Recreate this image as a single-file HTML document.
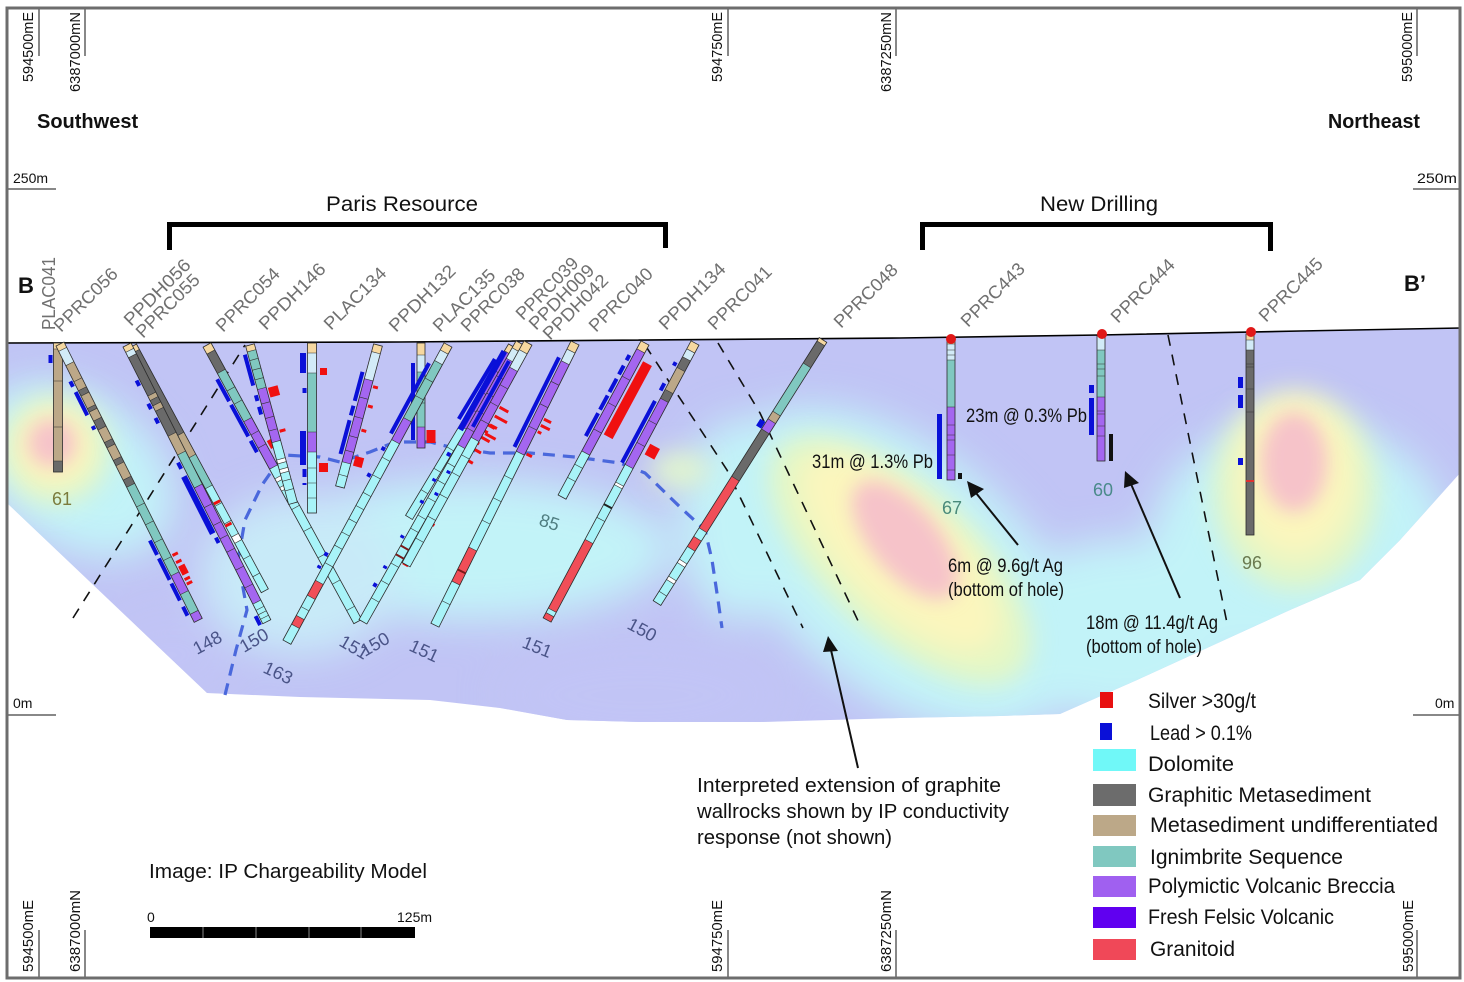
<!DOCTYPE html>
<html><head><meta charset="utf-8"><style>
html,body{margin:0;padding:0;background:#fff;}
svg{display:block;}
text{font-family:"Liberation Sans",Arial,sans-serif;}
.Y{stroke:#f6d8a0}.L{stroke:#d2ebf7}.T{stroke:#bca888}.G{stroke:#6a6a6a}.I{stroke:#80c8c0}.P{stroke:#a466f0}.C{stroke:#a8f3f8}.R{stroke:#f04e58}.W{stroke:#fff}
.k{stroke:#333;stroke-width:.6;fill:none}
.o{fill:none;stroke:#2b2b2b;stroke-width:.8}
.B{stroke:#0a10d8;stroke-width:4;fill:none}
.B6{stroke:#0a10d8;stroke-width:6;fill:none}
.S{stroke:#f01010;stroke-width:3;fill:none}
.Sh{stroke:#f01010;fill:none}
.hl{fill:#707070;font-size:18px}
.dn{fill:#4a5488;font-size:18px}
.lg{fill:#111;font-size:21px}
.an{fill:#111;font-size:19px}
.co{fill:#111;font-size:15px}
</style></head><body>
<svg width="1464" height="982" viewBox="0 0 1464 982" xmlns="http://www.w3.org/2000/svg">
<defs>
<clipPath id="ipc"><polygon points="7,343 400,342 900,338 1100,335 1300,331 1461,328 1461,472 1400,540 1360,580 1290,610 1137,680 1060,714 1000,716 900,718 760,722 640,722 567,720 500,708 430,700 300,697 207,693 7,503"/></clipPath>
<filter id="f1" x="-50%" y="-50%" width="200%" height="200%"><feGaussianBlur stdDeviation="20"/></filter>
<filter id="f2" x="-50%" y="-50%" width="200%" height="200%"><feGaussianBlur stdDeviation="13"/></filter>
<filter id="f3" x="-50%" y="-50%" width="200%" height="200%"><feGaussianBlur stdDeviation="9"/></filter>
</defs>
<rect width="1464" height="982" fill="#fff"/>

<!-- IP model -->
<g clip-path="url(#ipc)">
<rect x="0" y="300" width="1464" height="450" fill="#c1c4f5"/>
<g filter="url(#f1)" fill="#c2f3f8">
<ellipse cx="470" cy="550" rx="200" ry="70"/>
<ellipse cx="300" cy="575" rx="100" ry="80" fill="#c8eaf8"/>
<ellipse cx="740" cy="520" rx="60" ry="100"/>
<ellipse cx="900" cy="570" rx="210" ry="120" transform="rotate(40 900 570)"/>
<ellipse cx="1120" cy="630" rx="120" ry="90"/>
<ellipse cx="1300" cy="545" rx="150" ry="125"/>
<ellipse cx="75" cy="470" rx="110" ry="75" transform="rotate(35 75 470)"/>
<ellipse cx="640" cy="695" rx="140" ry="55" fill="#c1c4f5"/>
<ellipse cx="170" cy="655" rx="60" ry="40" fill="#c1c4f5"/>
</g>
<g filter="url(#f2)">
<circle cx="55" cy="450" r="55" fill="#e2f6c6"/>
<circle cx="54" cy="447" r="40" fill="#fbf6bd"/>
<ellipse cx="900" cy="560" rx="165" ry="75" transform="rotate(43 900 560)" fill="#e4f7c4"/>
<ellipse cx="900" cy="552" rx="130" ry="55" transform="rotate(45 900 552)" fill="#fbf6bd"/>
<ellipse cx="1295" cy="490" rx="82" ry="100" fill="#e2f6c6"/>
<ellipse cx="1295" cy="475" rx="60" ry="82" fill="#fbf6bd"/>
<ellipse cx="680" cy="470" rx="30" ry="18" fill="#e2f6cc"/>
</g>
<g filter="url(#f3)" fill="#f6c3c9">
<circle cx="52" cy="443" r="24"/>
<ellipse cx="905" cy="540" rx="72" ry="34" transform="rotate(50 905 540)"/>
<ellipse cx="1294" cy="462" rx="33" ry="50"/>
</g>
</g>

<!-- ground line -->
<polyline points="7,343 400,342 900,338 1100,335 1300,331 1461,328" fill="none" stroke="#000" stroke-width="1.6"/>

<!-- black dashed interpretations -->
<g fill="none" stroke="#111" stroke-width="1.6" stroke-dasharray="11 9">
<path d="M73 618L245 345"/>
<path d="M645 345L727 470L803 628"/>
<path d="M718 343L760 413L860 625"/>
<path d="M1168 335L1227 623"/>
</g>

<!-- blue dashed IP boundary -->
<polyline points="225,695 236,650 247,610 238,560 245,520 262,485 283,455 320,457 340,462 370,452 395,442 430,442 450,447 490,453 530,453 575,457 620,463 645,473 680,507 705,530 712,560 718,600 722,628" fill="none" stroke="#4a68dc" stroke-width="3.2" stroke-dasharray="12 8"/>

<!-- H1 PLAC041 -->
<g transform="translate(58,343) rotate(90)" stroke-width="9">
<path class="Y" d="M0 0H6"/><path class="T" d="M6 0H118"/><path class="G" d="M118 0H129"/>
<rect class="o" x="0" y="-4.5" width="129" height="9"/>
<path class="k" d="M6 -4.5v9M38 -4.5v9M84 -4.5v9M118 -4.5v9"/>
<path class="B" d="M12 7.5H20"/>
</g>

<!-- H2 PPRC056 -->
<g transform="translate(60,344) rotate(63.43)" stroke-width="9">
<path class="Y" d="M0 0H6"/><path class="L" d="M6 0H22"/><path class="T" d="M22 0H150"/>
<path class="G" d="M50 0H56M70 0H74M84 0H94M108 0H114M128 0H134M150 0H158"/>
<path class="I" d="M158 0H257M278 0H300"/><path class="P" d="M257 0H278M300 0H309"/>
<rect class="o" x="0" y="-4.5" width="309" height="9"/>
<path class="k" d="M6 -4.5v9M22 -4.5v9M40 -4.5v9M50 -4.5v9M56 -4.5v9M70 -4.5v9M74 -4.5v9M84 -4.5v9M94 -4.5v9M108 -4.5v9M114 -4.5v9M128 -4.5v9M134 -4.5v9M150 -4.5v9M158 -4.5v9M180 -4.5v9M200 -4.5v9M220 -4.5v9M240 -4.5v9M257 -4.5v9M278 -4.5v9M300 -4.5v9"/>
<path class="B" d="M38 7.5H44M50 7.5H76M88 7.5H92M216 7.5H232M236 7.5H260M264 7.5H283M290 7.5H300"/>
<path class="S" d="M239.5 -6V-12M247.5 -6V-12M266.5 -6V-12M271.5 -6V-12"/>
<path class="Sh" stroke-width="7" d="M252 -9.5H262"/>
</g>

<!-- H3a PPRC055 -->
<g transform="translate(133,346) rotate(61.7)" stroke-width="8">
<path class="Y" d="M0 0H6"/><path class="G" d="M6 0H100"/><path class="T" d="M100 0H125"/><path class="I" d="M125 0H160"/><path class="C" d="M160 0H278"/><path class="W" d="M215 0H222"/>
<rect class="o" x="0" y="-4" width="278" height="8"/>
<path class="k" d="M6 -4v8M100 -4v8M125 -4v8M160 -4v8M180 -4v8M200 -4v8M215 -4v8M222 -4v8M240 -4v8M260 -4v8"/>
</g>

<!-- H3b PPDH056 -->
<g transform="translate(127,345) rotate(63.2)" stroke-width="9">
<path class="Y" d="M0 0H6"/><path class="L" d="M6 0H12"/><path class="G" d="M12 0H100"/><path class="T" d="M55 0H60M66 0H72M100 0H121"/><path class="I" d="M121 0H158"/><path class="P" d="M158 0H288"/><path class="C" d="M288 0H310"/>
<rect class="o" x="0" y="-4.5" width="310" height="9"/>
<path class="k" d="M6 -4.5v9M12 -4.5v9M55 -4.5v9M60 -4.5v9M66 -4.5v9M72 -4.5v9M100 -4.5v9M121 -4.5v9M158 -4.5v9M180 -4.5v9M200 -4.5v9M215 -4.5v9M230 -4.5v9M250 -4.5v9M270 -4.5v9M288 -4.5v9M295 -4.5v9M300 -4.5v9M305 -4.5v9"/>
<path class="B" d="M36 7.5H42M62 7.5H68M78 7.5H84M128 7.5H135M212 7.5H218M300 7.5H310"/>
<path class="B6" d="M143 8.5H207"/>
<path class="S" d="M181 -6V-13M206 -6V-13"/>
</g>

<!-- H4 PPRC054 -->
<g transform="translate(207,345) rotate(61.4)" stroke-width="9">
<path class="Y" d="M0 0H8"/><path class="G" d="M8 0H30"/><path class="I" d="M30 0H85"/><path class="P" d="M85 0H139"/><path class="C" d="M139 0H315"/><path class="W" d="M150 0H154M160 0H164"/>
<rect class="o" x="0" y="-4.5" width="315" height="9"/>
<path class="k" d="M8 -4.5v9M30 -4.5v9M50 -4.5v9M65 -4.5v9M85 -4.5v9M100 -4.5v9M115 -4.5v9M139 -4.5v9M150 -4.5v9M154 -4.5v9M160 -4.5v9M164 -4.5v9M185 -4.5v9M210 -4.5v9M240 -4.5v9M270 -4.5v9M300 -4.5v9"/>
<path class="B" d="M35 7.5H60M64 7.5H100M105 7.5H118"/>
<path class="Sh" stroke-width="9" d="M113 -11H122"/>
</g>

<!-- H5 PPDH146 -->
<g transform="translate(250,345) rotate(74.8)" stroke-width="9">
<path class="Y" d="M0 0H6"/><path class="I" d="M6 0H45"/><path class="P" d="M45 0H100"/><path class="C" d="M100 0H164"/><path class="W" d="M118 0H122M128 0H132"/>
<rect class="o" x="0" y="-4.5" width="164" height="9"/>
<path class="k" d="M6 -4.5v9M15 -4.5v9M25 -4.5v9M35 -4.5v9M45 -4.5v9M60 -4.5v9M75 -4.5v9M88 -4.5v9M100 -4.5v9M118 -4.5v9M122 -4.5v9M128 -4.5v9M132 -4.5v9M140 -4.5v9M150 -4.5v9"/>
<path class="B" d="M8 7.5H40M50 7.5H56M62 7.5H70"/>
<path class="Sh" stroke-width="10" d="M46 -11H56"/>
<path class="S" d="M91 -6V-12"/>
</g>

<!-- H6 PLAC134 -->
<g transform="translate(312,343) rotate(90)" stroke-width="9">
<path class="Y" d="M0 0H10"/><path class="L" d="M10 0H30"/><path class="I" d="M30 0H89"/><path class="P" d="M89 0H109"/><path class="C" d="M109 0H170"/>
<rect class="o" x="0" y="-4.5" width="170" height="9"/>
<path class="k" d="M10 -4.5v9M30 -4.5v9M89 -4.5v9M109 -4.5v9M125 -4.5v9M140 -4.5v9M155 -4.5v9"/>
<path class="B6" d="M10 9H30M88 9H122"/>
<path class="B" d="M45 7.5H50M126 7.5H134M140 7.5H142"/>
<path class="Sh" stroke-width="7" d="M25 -11.5H32"/>
<path class="Sh" stroke-width="9" d="M120 -11.5H129"/>
</g>

<!-- H7 PPDH132 -->
<g transform="translate(378,345) rotate(105)" stroke-width="9">
<path class="Y" d="M0 0H8"/><path class="L" d="M8 0H36"/><path class="P" d="M36 0H122"/><path class="C" d="M122 0H147"/>
<rect class="o" x="0" y="-4.5" width="147" height="9"/>
<path class="k" d="M8 -4.5v9M36 -4.5v9M55 -4.5v9M75 -4.5v9M95 -4.5v9M110 -4.5v9M122 -4.5v9M135 -4.5v9"/>
<path class="B" d="M30 8H60M65 8H75M80 8H115" stroke-width="5"/>
<path class="S" d="M41.5 -6V-11M61.5 -6V-11M86.5 -6V-11"/>
<path class="Sh" stroke-width="9" d="M113 -11.5H123"/>
</g>

<!-- H8 PLAC135 -->
<g transform="translate(421,343) rotate(90)" stroke-width="8">
<path class="Y" d="M0 0H12"/><path class="L" d="M12 0H29"/><path class="I" d="M29 0H84"/><path class="P" d="M84 0H105"/>
<rect class="o" x="0" y="-4" width="105" height="8"/>
<path class="k" d="M12 -4v8M29 -4v8M45 -4v8M60 -4v8M84 -4v8"/>
<path class="B" d="M20 8H97"/>
<path class="Sh" stroke-width="9" d="M87 -10H100"/>
</g>

<!-- H9 PPRC038 -->
<g transform="translate(448,345) rotate(118.46)" stroke-width="9">
<path class="Y" d="M0 0H8"/><path class="L" d="M8 0H20"/><path class="I" d="M20 0H85"/><path class="P" d="M85 0H110"/><path class="C" d="M110 0H270M287 0H310M320 0H338"/><path class="R" d="M270 0H287M310 0H320"/>
<rect class="o" x="0" y="-4.5" width="338" height="9"/>
<path class="k" d="M8 -4.5v9M20 -4.5v9M40 -4.5v9M60 -4.5v9M85 -4.5v9M110 -4.5v9M130 -4.5v9M150 -4.5v9M170 -4.5v9M185 -4.5v9M200 -4.5v9M215 -4.5v9M230 -4.5v9M250 -4.5v9M270 -4.5v9M287 -4.5v9M300 -4.5v9M310 -4.5v9M320 -4.5v9"/>
<path class="B" d="M25 8H105" stroke-width="5"/>
<path class="B" d="M120 7.5H124M150 7.5H154M240 7.5H244M255 7.5H258"/>
</g>

<!-- H10c -->
<g transform="translate(512,346) rotate(121)" stroke-width="8">
<path class="Y" d="M0 0H8"/><path class="P" d="M8 0H95"/><path class="C" d="M95 0H200"/>
<rect class="o" x="0" y="-4" width="200" height="8"/>
<path class="k" d="M8 -4v8M30 -4v8M55 -4v8M75 -4v8M95 -4v8M120 -4v8M145 -4v8M170 -4v8"/>
<path class="B" d="M20 8H90" stroke-width="5"/>
</g>

<!-- H10a -->
<g transform="translate(520,343) rotate(119.4)" stroke-width="9">
<path class="Y" d="M0 0H8"/><path class="L" d="M8 0H20"/><path class="P" d="M20 0H119"/><path class="C" d="M119 0H320"/>
<rect class="o" x="0" y="-4.5" width="320" height="9"/>
<path class="k" d="M8 -4.5v9M20 -4.5v9M40 -4.5v9M60 -4.5v9M80 -4.5v9M100 -4.5v9M119 -4.5v9M140 -4.5v9M160 -4.5v9M180 -4.5v9M200 -4.5v9M215 -4.5v9M255 -4.5v9M275 -4.5v9M295 -4.5v9"/>
<path d="M235 -4.5v9M245 -4.5v9" stroke="#7a1a1a" stroke-width="2"/>
<path class="B6" d="M15 9.5H105"/>
<path class="B" d="M130 7.5H134M160 7.5H163M185 7.5H188M225 7.5H228M260 7.5H263M280 7.5H284"/>
<path class="S" stroke-width="4" d="M87 -6V-20M94 -6V-16M101 -6V-22M108 -6V-14M115 -6V-20M122 -6V-12M128 -6V-18M136 -6V-10M150 -6V-12M191 -6V-12M201 -6V-15M207 -6V-12M226 -6V-12M234 -6V-14M241 -6V-10M249 -6V-12"/>
</g>

<!-- H10b -->
<g transform="translate(528,343) rotate(118.8)" stroke-width="9">
<path class="Y" d="M0 0H10"/><path class="L" d="M10 0H30"/><path class="P" d="M30 0H110"/><path class="C" d="M110 0H253"/>
<rect class="o" x="0" y="-4.5" width="253" height="9"/>
<path class="k" d="M10 -4.5v9M30 -4.5v9M50 -4.5v9M70 -4.5v9M90 -4.5v9M110 -4.5v9M130 -4.5v9M150 -4.5v9M175 -4.5v9M200 -4.5v9M225 -4.5v9"/>
<path class="B" d="M25 8H100" stroke-width="5"/>
<path class="B" d="M150 7.5H153M175 7.5H178"/>
<path class="S" stroke-width="4" d="M70 -6V-16M80 -6V-20M90 -6V-14M100 -6V-18"/>
</g>

<!-- H11 -->
<g transform="translate(575,343) rotate(116.4)" stroke-width="9">
<path class="Y" d="M0 0H9"/><path class="L" d="M9 0H22"/><path class="P" d="M22 0H123"/><path class="C" d="M123 0H230M268 0H315"/><path class="R" d="M230 0H268"/>
<rect class="o" x="0" y="-4.5" width="315" height="9"/>
<path class="k" d="M9 -4.5v9M22 -4.5v9M45 -4.5v9M70 -4.5v9M95 -4.5v9M123 -4.5v9M150 -4.5v9M175 -4.5v9M200 -4.5v9M230 -4.5v9M268 -4.5v9M290 -4.5v9"/>
<path d="M255 -4.5v9" stroke="#7a1a1a" stroke-width="2"/>
<path class="B" d="M20 8H120" stroke-width="5"/>
<path class="S" stroke-width="4" d="M82 -6V-14M89 -6V-16M96 -6V-10M121 -6V-12"/>
</g>

<!-- H12 PPRC040 -->
<g transform="translate(645,343) rotate(118.3)" stroke-width="9">
<path class="Y" d="M0 0H9"/><path class="P" d="M9 0H125"/><path class="C" d="M125 0H175"/>
<rect class="o" x="0" y="-4.5" width="175" height="9"/>
<path class="k" d="M9 -4.5v9M40 -4.5v9M70 -4.5v9M100 -4.5v9M125 -4.5v9M140 -4.5v9M155 -4.5v9"/>
<path class="B" stroke-width="5" d="M18 8H24M30 8H40M45 8H60M64 8H80M84 8H110"/>
<path class="Sh" stroke-width="10" d="M17 -12H100"/>
</g>

<!-- H13 PPDH134 -->
<g transform="translate(695,343) rotate(118.1)" stroke-width="9">
<path class="Y" d="M0 0H9"/><path class="L" d="M9 0H18"/><path class="G" d="M18 0H30M55 0H65"/><path class="T" d="M30 0H55"/><path class="P" d="M65 0H140"/><path class="C" d="M140 0H225M303 0H308"/><path class="R" d="M225 0H303M308 0H314"/><path class="W" d="M160 0H163"/>
<rect class="o" x="0" y="-4.5" width="314" height="9"/>
<path class="k" d="M9 -4.5v9M18 -4.5v9M30 -4.5v9M55 -4.5v9M65 -4.5v9M90 -4.5v9M115 -4.5v9M140 -4.5v9M160 -4.5v9M163 -4.5v9M200 -4.5v9M225 -4.5v9M303 -4.5v9M308 -4.5v9"/>
<path d="M185 -4.5v9" stroke="#222" stroke-width="2"/>
<path class="B" stroke-width="5" d="M26 8H30M50 8H58M70 8H140"/>
<path class="Sh" stroke-width="11" d="M110 -13.5H122"/>
</g>

<!-- H14 PPRC048 -->
<g transform="translate(823,340) rotate(122.26)" stroke-width="9">
<path class="Y" d="M0 0H4"/><path class="G" d="M4 0H30M108 0H164"/><path class="I" d="M30 0H87"/><path class="T" d="M87 0H96"/><path class="P" d="M96 0H108"/><path class="R" d="M164 0H225M235 0H247"/><path class="C" d="M225 0H235M247 0H311"/><path class="W" d="M262 0H266M282 0H286"/>
<rect class="o" x="0" y="-4.5" width="311" height="9"/>
<path class="k" d="M4 -4.5v9M30 -4.5v9M87 -4.5v9M96 -4.5v9M108 -4.5v9M164 -4.5v9M225 -4.5v9M235 -4.5v9M247 -4.5v9M262 -4.5v9M266 -4.5v9M282 -4.5v9M286 -4.5v9M300 -4.5v9"/>
<path class="B6" d="M100 8H108"/>
</g>

<!-- H15 PPRC443 -->
<g transform="translate(951,340) rotate(90)" stroke-width="8">
<path class="Y" d="M0 0H4"/><path class="L" d="M4 0H20"/><path class="I" d="M20 0H67"/><path class="P" d="M67 0H140"/>
<rect class="o" x="0" y="-4" width="140" height="8"/>
<path class="k" d="M4 -4v8M10 -4v8M15 -4v8M20 -4v8M67 -4v8M85 -4v8M95 -4v8M100 -4v8M115 -4v8M130 -4v8"/>
</g>
<!-- H16 PPRC444 -->
<g transform="translate(1101,336) rotate(90)" stroke-width="8">
<path class="L" d="M0 0H14"/><path class="I" d="M14 0H61"/><path class="P" d="M61 0H125"/>
<rect class="o" x="0" y="-4" width="125" height="8"/>
<path class="k" d="M14 -4v8M28 -4v8M33 -4v8M40 -4v8M61 -4v8M75 -4v8M78 -4v8M90 -4v8M100 -4v8"/>
</g>
<!-- H17 PPRC445 -->
<g transform="translate(1250,334) rotate(90)" stroke-width="8">
<path class="Y" d="M0 0H6"/><path class="L" d="M6 0H16"/><path class="G" d="M16 0H201"/>
<rect class="o" x="0" y="-4" width="201" height="8"/>
<path class="k" d="M6 -4v8M16 -4v8M30 -4v8M33 -4v8M55 -4v8M78 -4v8"/>
<path d="M147 -4v8" stroke="#e03030" stroke-width="2"/>
</g>

<!-- new drilling assay bars -->
<g fill="#0a10d8">
<rect x="937" y="414" width="5" height="65"/>
<rect x="1089" y="385" width="5" height="8"/>
<rect x="1089" y="398" width="5" height="37"/>
<rect x="1238" y="377" width="5" height="11"/>
<rect x="1238" y="395" width="5" height="13"/>
<rect x="1238" y="458" width="5" height="7"/>
</g>
<rect x="958" y="473" width="4" height="6" fill="#111"/>
<rect x="1109" y="434" width="4" height="27" fill="#111"/>
<g fill="#e01818">
<circle cx="951" cy="339" r="5"/>
<circle cx="1102" cy="334" r="5"/>
<circle cx="1251" cy="332" r="5"/>
</g>

<!-- hole name labels -->
<text class="hl" transform="translate(55,330) rotate(-90)" textLength="73" lengthAdjust="spacingAndGlyphs">PLAC041</text>
<text class="hl" transform="translate(61,333) rotate(-45)" textLength="82" lengthAdjust="spacingAndGlyphs">PPRC056</text>
<text class="hl" transform="translate(131,327) rotate(-45)" textLength="86" lengthAdjust="spacingAndGlyphs">PPDH056</text>
<text class="hl" transform="translate(143,339) rotate(-45)" textLength="82" lengthAdjust="spacingAndGlyphs">PPRC055</text>
<text class="hl" transform="translate(223,333) rotate(-45)" textLength="82" lengthAdjust="spacingAndGlyphs">PPRC054</text>
<text class="hl" transform="translate(266,331) rotate(-45)" textLength="86" lengthAdjust="spacingAndGlyphs">PPDH146</text>
<text class="hl" transform="translate(331,331) rotate(-45)" textLength="80" lengthAdjust="spacingAndGlyphs">PLAC134</text>
<text class="hl" transform="translate(396,333) rotate(-45)" textLength="86" lengthAdjust="spacingAndGlyphs">PPDH132</text>
<text class="hl" transform="translate(440,333) rotate(-45)" textLength="80" lengthAdjust="spacingAndGlyphs">PLAC135</text>
<text class="hl" transform="translate(468,333) rotate(-45)" textLength="82" lengthAdjust="spacingAndGlyphs">PPRC038</text>
<text class="hl" transform="translate(523,321) rotate(-45)" textLength="80" lengthAdjust="spacingAndGlyphs">PPRC039</text>
<text class="hl" transform="translate(536,331) rotate(-45)" textLength="84" lengthAdjust="spacingAndGlyphs">PPDH009</text>
<text class="hl" transform="translate(550,341) rotate(-45)" textLength="84" lengthAdjust="spacingAndGlyphs">PPDH042</text>
<text class="hl" transform="translate(596,333) rotate(-45)" textLength="82" lengthAdjust="spacingAndGlyphs">PPRC040</text>
<text class="hl" transform="translate(666,331) rotate(-45)" textLength="86" lengthAdjust="spacingAndGlyphs">PPDH134</text>
<text class="hl" transform="translate(715,331) rotate(-45)" textLength="82" lengthAdjust="spacingAndGlyphs">PPRC041</text>
<text class="hl" transform="translate(841,329) rotate(-45)" textLength="82" lengthAdjust="spacingAndGlyphs">PPRC048</text>
<text class="hl" transform="translate(968,328) rotate(-45)" textLength="82" lengthAdjust="spacingAndGlyphs">PPRC443</text>
<text class="hl" transform="translate(1118,324) rotate(-45)" textLength="82" lengthAdjust="spacingAndGlyphs">PPRC444</text>
<text class="hl" transform="translate(1266,323) rotate(-45)" textLength="82" lengthAdjust="spacingAndGlyphs">PPRC445</text>

<!-- depth labels -->
<text x="52" y="505" style="fill:#7b7b3c;font-size:18px">61</text>
<text class="dn" transform="translate(197,655) rotate(-28)">148</text>
<text class="dn" transform="translate(244,653) rotate(-30)">150</text>
<text class="dn" transform="translate(262,672) rotate(25)">163</text>
<text class="dn" transform="translate(338,645) rotate(30)">151</text>
<text class="dn" transform="translate(365,657) rotate(-30)">150</text>
<text class="dn" transform="translate(408,650) rotate(25)">151</text>
<text transform="translate(538,525) rotate(18)" style="fill:#4f7d80;font-size:18px">85</text>
<text class="dn" transform="translate(521,647) rotate(22)">151</text>
<text class="dn" transform="translate(626,628) rotate(28)">150</text>
<text x="942" y="514" style="fill:#4a8a7a;font-size:18px">67</text>
<text x="1093" y="496" style="fill:#4a8a8a;font-size:18px">60</text>
<text x="1242" y="569" style="fill:#6a7a50;font-size:18px">96</text>

<!-- annotations -->
<text class="an" x="966" y="422" textLength="121" lengthAdjust="spacingAndGlyphs">23m @ 0.3% Pb</text>
<text class="an" x="812" y="468" textLength="121" lengthAdjust="spacingAndGlyphs">31m @ 1.3% Pb</text>
<text class="an" x="948" y="572" textLength="115" lengthAdjust="spacingAndGlyphs">6m @ 9.6g/t Ag</text>
<text class="an" x="948" y="596" textLength="116" lengthAdjust="spacingAndGlyphs">(bottom of hole)</text>
<text class="an" x="1086" y="629" textLength="132" lengthAdjust="spacingAndGlyphs">18m @ 11.4g/t Ag</text>
<text class="an" x="1086" y="653" textLength="116" lengthAdjust="spacingAndGlyphs">(bottom of hole)</text>

<!-- arrows -->
<g stroke="#111" stroke-width="2" fill="none">
<path d="M1018 545L976 493"/>
<path d="M1180 598L1131 484"/>
<path d="M858 768L831 650"/>
</g>
<g fill="#111">
<polygon points="967,481 984,489 971,498"/>
<polygon points="1125,471 1139,483 1124,488"/>
<polygon points="828,636 838,651 823,652"/>
</g>

<text x="697" y="792" style="fill:#111;font-size:20px" textLength="304" lengthAdjust="spacingAndGlyphs">Interpreted extension of graphite</text>
<text x="697" y="818" style="fill:#111;font-size:20px" textLength="312" lengthAdjust="spacingAndGlyphs">wallrocks shown by IP conductivity</text>
<text x="697" y="844" style="fill:#111;font-size:20px" textLength="195" lengthAdjust="spacingAndGlyphs">response (not shown)</text>

<!-- headers -->
<text x="37" y="128" style="font-weight:bold;font-size:20px;fill:#111">Southwest</text>
<text x="1328" y="128" style="font-weight:bold;font-size:20px;fill:#111" textLength="92" lengthAdjust="spacingAndGlyphs">Northeast</text>
<text x="18" y="293" style="font-weight:bold;font-size:22px;fill:#111">B</text>
<text x="1404" y="291" style="font-weight:bold;font-size:22px;fill:#111">B’</text>
<text x="326" y="211" style="font-size:21px;fill:#111" textLength="152" lengthAdjust="spacingAndGlyphs">Paris Resource</text>
<text x="1040" y="211" style="font-size:21px;fill:#111" textLength="118" lengthAdjust="spacingAndGlyphs">New Drilling</text>
<path d="M169.5 250V224.5H665.5V248" fill="none" stroke="#000" stroke-width="5"/>
<path d="M922.5 250V224.5H1270.5V251" fill="none" stroke="#000" stroke-width="5"/>

<!-- elevations -->
<text x="13" y="183" style="font-size:14px;fill:#111">250m</text>
<path d="M7 189H56M1413 189H1461M7 715H56M1413 715H1461" stroke="#111" stroke-width="1"/>
<text x="1417" y="183" style="font-size:14px;fill:#111" textLength="40" lengthAdjust="spacingAndGlyphs">250m</text>
<text x="13" y="708" style="font-size:14px;fill:#111">0m</text>
<text x="1435" y="708" style="font-size:14px;fill:#111">0m</text>

<!-- coordinate ticks -->
<g stroke="#111" stroke-width="1">
<path d="M39 8V56M85 8V56M728 8V56M896 8V56M1417 8V56"/>
<path d="M39 930V978M85 930V978M728 930V978M896 930V978M1417 930V978"/>
</g>
<text class="co" transform="translate(33,82) rotate(-90)" textLength="70" lengthAdjust="spacingAndGlyphs">594500mE</text>
<text class="co" transform="translate(80,92) rotate(-90)" textLength="80" lengthAdjust="spacingAndGlyphs">6387000mN</text>
<text class="co" transform="translate(722,82) rotate(-90)" textLength="70" lengthAdjust="spacingAndGlyphs">594750mE</text>
<text class="co" transform="translate(891,92) rotate(-90)" textLength="80" lengthAdjust="spacingAndGlyphs">6387250mN</text>
<text class="co" transform="translate(1412,82) rotate(-90)" textLength="70" lengthAdjust="spacingAndGlyphs">595000mE</text>
<text class="co" transform="translate(33,972) rotate(-90)" textLength="72" lengthAdjust="spacingAndGlyphs">594500mE</text>
<text class="co" transform="translate(80,972) rotate(-90)" textLength="82" lengthAdjust="spacingAndGlyphs">6387000mN</text>
<text class="co" transform="translate(722,972) rotate(-90)" textLength="72" lengthAdjust="spacingAndGlyphs">594750mE</text>
<text class="co" transform="translate(891,972) rotate(-90)" textLength="82" lengthAdjust="spacingAndGlyphs">6387250mN</text>
<text class="co" transform="translate(1413,972) rotate(-90)" textLength="72" lengthAdjust="spacingAndGlyphs">595000mE</text>

<!-- image caption and scale -->
<text x="149" y="878" style="font-size:20px;fill:#111" textLength="278" lengthAdjust="spacingAndGlyphs">Image:  IP Chargeability Model</text>
<text x="147" y="922" style="font-size:14px;fill:#111">0</text>
<text x="397" y="922" style="font-size:14px;fill:#111">125m</text>
<rect x="150" y="927" width="265" height="11" fill="#000"/>
<path d="M203 927V938M256 927V938M309 927V938M361 927V938" stroke="#888" stroke-width="1"/>

<!-- legend -->
<rect x="1100" y="692" width="13" height="16" fill="#e81010"/>
<rect x="1100" y="723" width="12" height="17" fill="#0a10d8"/>
<rect x="1093" y="749" width="43" height="22" fill="#70f8f8"/>
<rect x="1093" y="784" width="43" height="22" fill="#6c6c6c"/>
<rect x="1093" y="815" width="43" height="21" fill="#bca888"/>
<rect x="1093" y="846" width="43" height="21" fill="#80c8c0"/>
<rect x="1093" y="876" width="43" height="21" fill="#a060f0"/>
<rect x="1093" y="907" width="43" height="21" fill="#6000f0"/>
<rect x="1093" y="939" width="43" height="21" fill="#f04858"/>
<text class="lg" x="1148" y="708" textLength="108" lengthAdjust="spacingAndGlyphs">Silver &gt;30g/t</text>
<text class="lg" x="1150" y="740" textLength="102" lengthAdjust="spacingAndGlyphs">Lead &gt; 0.1%</text>
<text class="lg" x="1148" y="771" textLength="86" lengthAdjust="spacingAndGlyphs">Dolomite</text>
<text class="lg" x="1148" y="802" textLength="223" lengthAdjust="spacingAndGlyphs">Graphitic Metasediment</text>
<text class="lg" x="1150" y="832" textLength="288" lengthAdjust="spacingAndGlyphs">Metasediment undifferentiated</text>
<text class="lg" x="1150" y="864" textLength="193" lengthAdjust="spacingAndGlyphs">Ignimbrite Sequence</text>
<text class="lg" x="1148" y="893" textLength="247" lengthAdjust="spacingAndGlyphs">Polymictic Volcanic Breccia</text>
<text class="lg" x="1148" y="924" textLength="186" lengthAdjust="spacingAndGlyphs">Fresh Felsic Volcanic</text>
<text class="lg" x="1150" y="956" textLength="85" lengthAdjust="spacingAndGlyphs">Granitoid</text>

<!-- frame -->
<rect x="7" y="8" width="1453" height="970" fill="none" stroke="#6d6d6d" stroke-width="3"/>
</svg>
</body></html>
